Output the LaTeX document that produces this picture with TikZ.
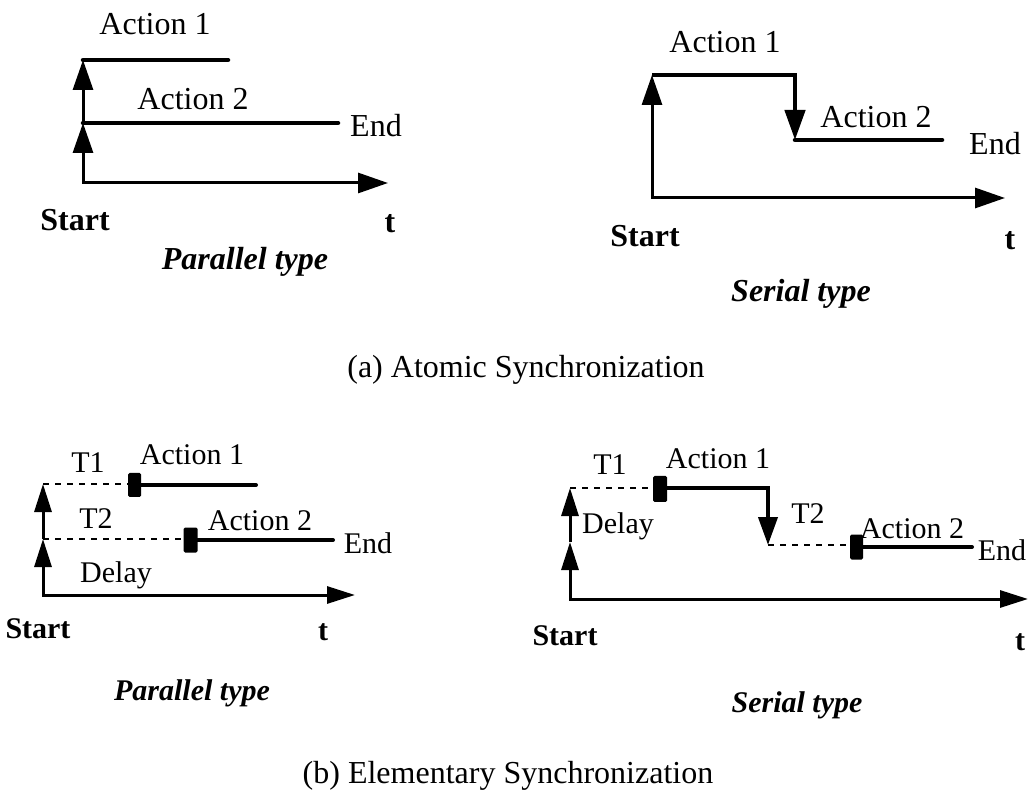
\documentclass[tikz,border=0pt]{standalone}
\usepackage{fontspec}
\setmainfont{Liberation Serif}
\usetikzlibrary{arrows.meta}
\begin{document}
\begin{tikzpicture}[x=1pt,y=-1pt,
  lbl/.style={anchor=base,inner sep=0pt,font=\fontsize{32}{36}\selectfont},
  lbls/.style={anchor=base,inner sep=0pt,font=\fontsize{30}{34}\selectfont},
  kind/.style={anchor=base,inner sep=0pt,font=\fontsize{32}{36}\selectfont\bfseries\itshape},
  kinds/.style={anchor=base,inner sep=0pt,font=\fontsize{30}{34}\selectfont\bfseries\itshape},
  axisline/.style={line width=3pt,line join=miter},
  actline/.style={line width=4.5pt,line cap=round,line join=miter},
  actsmall/.style={line width=4pt,line cap=round,line join=miter},
  waitline/.style={line width=1.4pt,dash pattern=on 6pt off 6pt},
  bigtip/.tip={Triangle[length=30pt,width=20pt]},
  smalltip/.tip={Triangle[length=28pt,width=17pt]},
  marker/.style={fill=black,rounded corners=1.5pt}
]
\useasboundingbox (0,0) rectangle (1034,799);

% ---------------- (a) parallel ----------------
\coordinate (pa-o)  at (83,183);
\coordinate (pa-s2) at (83,123);
\coordinate (pa-s1) at (83,60);
\coordinate (pa-t)  at (388,183);
\coordinate (pa-e1) at (228,60);
\coordinate (pa-e2) at (338,123);
\draw[axisline,bigtip-bigtip] (pa-s2) -- (pa-o) -- (pa-t);
\draw[axisline,-bigtip] (pa-s2) -- (pa-s1);
\draw[actline] (pa-s1) -- (pa-e1);
\draw[actline] (pa-s2) -- (pa-e2);
\node[lbl] (pa-l1) at (155,35) {Action 1};
\node[lbl] (pa-l2) at (193,110) {Action 2};
\node[lbl] (pa-end) at (376,137) {End};
\node[lbl,font=\fontsize{32}{36}\selectfont\bfseries] (pa-start) at (75,231) {Start};
\node[lbl,font=\fontsize{32}{36}\selectfont\bfseries] (pa-tl) at (390,233) {t};
\node[kind] (pa-kind) at (245,270) {Parallel type};

% ---------------- (a) serial ----------------
\coordinate (sa-o)  at (652,198);
\coordinate (sa-s1) at (652,75);
\coordinate (sa-c)  at (795,75);
\coordinate (sa-s2) at (795,140);
\coordinate (sa-t)  at (1005,198);
\coordinate (sa-e2) at (942,140);
\draw[axisline,bigtip-bigtip] (sa-s1) -- (sa-o) -- (sa-t);
\draw[actline,line cap=butt,-bigtip] (sa-s1) -- (sa-c) -- (sa-s2);
\draw[actline] (sa-s2) -- (sa-e2);
\node[lbl] (sa-l1) at (725,53) {Action 1};
\node[lbl] (sa-l2) at (876,128) {Action 2};
\node[lbl] (sa-end) at (995,155) {End};
\node[lbl,font=\fontsize{32}{36}\selectfont\bfseries] (sa-start) at (645,247) {Start};
\node[lbl,font=\fontsize{32}{36}\selectfont\bfseries] (sa-tl) at (1010,250) {t};
\node[kind] (sa-kind) at (801,302) {Serial type};

\node[lbl] (cap-a) at (526,378) {(a) Atomic Synchronization};

% ---------------- (b) parallel ----------------
\coordinate (pb-o)  at (43,595);
\coordinate (pb-s2) at (43,539);
\coordinate (pb-s1) at (43,484);
\coordinate (pb-t)  at (355,595);
\draw[axisline,smalltip-smalltip] (pb-s2) -- (pb-o) -- (pb-t);
\draw[axisline,-smalltip] (pb-s2) -- (pb-s1);
\node[marker,minimum width=13pt,minimum height=24pt,inner sep=0pt] (pb-m1) at (134.5,485) {};
\node[marker,minimum width=14pt,minimum height=25pt,inner sep=0pt] (pb-m2) at (190.5,540) {};
\draw[waitline] (pb-s1) -- (pb-m1.west |- pb-s1);
\draw[waitline] (pb-s2) -- (pb-m2.west |- pb-s2);
\coordinate (pb-e1) at (256,485);
\coordinate (pb-e2) at (333,540);
\draw[actsmall] (pb-m1.east) -- (pb-e1);
\draw[actsmall] (pb-m2.east) -- (pb-e2);
\node[lbls] (pb-t1) at (88,473) {T1};
\node[lbls] (pb-l1) at (192,465) {Action 1};
\node[lbls] (pb-t2) at (96,528) {T2};
\node[lbls] (pb-l2) at (260,530) {Action 2};
\node[lbls] (pb-end) at (368,553) {End};
\node[lbls] (pb-delay) at (116,582) {Delay};
\node[lbls,font=\fontsize{30}{34}\selectfont\bfseries] (pb-start) at (38,638) {Start};
\node[lbls,font=\fontsize{30}{34}\selectfont\bfseries] (pb-tl) at (323,640) {t};
\node[kinds] (pb-kind) at (192,700) {Parallel type};

% ---------------- (b) serial ----------------
\coordinate (sb-o)  at (570,599);
\coordinate (sb-s2) at (570,542);
\coordinate (sb-s1) at (570,488);
\coordinate (sb-t)  at (1028,599);
\draw[axisline,smalltip-smalltip] (sb-s2) -- (sb-o) -- (sb-t);
\draw[axisline,-smalltip] (sb-s2) -- (sb-s1);
\node[marker,minimum width=14pt,minimum height=26pt,inner sep=0pt] (sb-m1) at (660,489) {};
\node[marker,minimum width=13pt,minimum height=25pt,inner sep=0pt] (sb-m2) at (856.5,547) {};
\coordinate (sb-c)  at (768,488);
\coordinate (sb-d)  at (768,545);
\coordinate (sb-e2) at (972,547);
\draw[waitline] (sb-s1) -- (sb-m1.west |- sb-s1);
\draw[actsmall,line cap=butt,-{Triangle[length=28pt,width=19pt]}] (sb-m1.east |- sb-c) -- (sb-c) -- (sb-d);
\draw[waitline] (sb-d) -- (sb-m2.west |- sb-d);
\draw[actsmall] (sb-m2.east) -- (sb-e2);
\node[lbls] (sb-t1) at (610,475) {T1};
\node[lbls] (sb-l1) at (718,468) {Action 1};
\node[lbls] (sb-delay) at (618,533) {Delay};
\node[lbls] (sb-t2) at (808,523) {T2};
\node[lbls] (sb-l2) at (912,538) {Action 2};
\node[lbls] (sb-end) at (1002,560) {End};
\node[lbls,font=\fontsize{30}{34}\selectfont\bfseries] (sb-start) at (565,645) {Start};
\node[lbls,font=\fontsize{30}{34}\selectfont\bfseries] (sb-tl) at (1020,650) {t};
\node[kinds] (sb-kind) at (797,712) {Serial type};

\node[lbl] (cap-b) at (508,783) {(b) Elementary Synchronization};
\end{tikzpicture}
\end{document}
